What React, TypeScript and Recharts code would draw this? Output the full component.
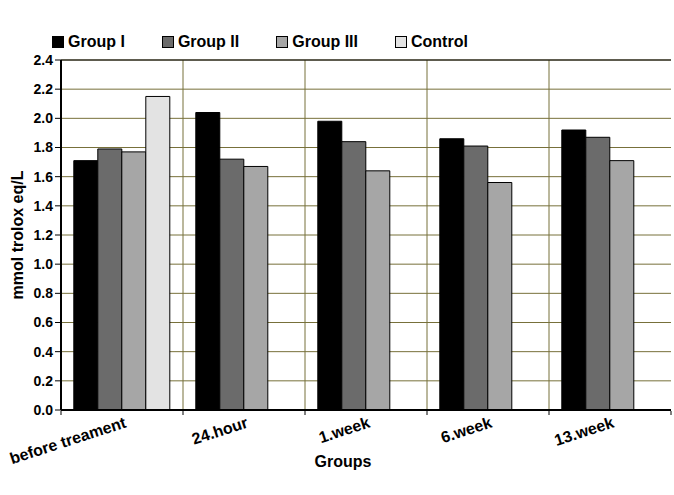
import React from 'react';
import { BarChart, Bar, XAxis, YAxis, CartesianGrid, ReferenceLine, Label } from 'recharts';

const categories = ['before treament', '24.hour', '1.week', '6.week', '13.week'];
const groupI = [1.71, 2.04, 1.98, 1.86, 1.92];
const groupII = [1.79, 1.72, 1.84, 1.81, 1.87];
const groupIII = [1.77, 1.67, 1.64, 1.56, 1.71];
const control = [2.15, null, null, null, null];
const yTicks = [0, 0.2, 0.4, 0.6, 0.8, 1.0, 1.2, 1.4, 1.6, 1.8, 2.0, 2.2, 2.4];

const seriesNames = ['Group I', 'Group II', 'Group III', 'Control'];
const seriesColors = ['#000000', '#6b6b6b', '#a6a6a6', '#e3e3e3'];

const data = categories.map((name, i) => ({
  name,
  g1: groupI[i],
  g2: groupII[i],
  g3: groupIII[i],
  ctrl: control[i],
}));
const keys = ['g1', 'g2', 'g3', 'ctrl'];

const FONT = '"Liberation Sans", Arial, sans-serif';
const GRID = '#77703a';

const XTick = (props: any) => {
  const { x, y, payload, index, visibleTicksCount } = props;
  const half = payload.offset ?? 61;
  const tx = x + 5;
  const ty = y + 17;
  return (
    <g>
      <line x1={x - half} x2={x - half} y1={y + 1} y2={y + 5} stroke="#000" />
      {index === visibleTicksCount - 1 && (
        <line x1={x + half} x2={x + half} y1={y + 1} y2={y + 5} stroke="#000" />
      )}
      <text
        x={tx}
        y={ty}
        textAnchor="end"
        transform={`rotate(-18, ${tx}, ${ty})`}
        fontFamily={FONT}
        fontWeight="bold"
        fontSize={16}
        fill="#000"
      >
        {payload.value}
      </text>
    </g>
  );
};

const App: React.FC = () => {
  return (
    <div style={{ position: 'absolute', left: 0, top: 0, width: 674, height: 495, background: '#fff', fontFamily: FONT }}>
      {/* legend */}
      <div style={{ position: 'absolute', left: 52, top: 33, display: 'flex', alignItems: 'center' }}>
        {seriesNames.map((n, i) => (
          <div key={n} style={{ display: 'flex', alignItems: 'center', marginRight: 37 }}>
            <div style={{ width: 10, height: 10, background: seriesColors[i], border: '1px solid #000', marginRight: 4 }} />
            <span style={{ fontWeight: 'bold', fontSize: 16, color: '#000' }}>{n}</span>
          </div>
        ))}
      </div>
      <BarChart
        width={674}
        height={495}
        data={data}
        margin={{ top: 60, right: 3, bottom: 0, left: 0 }}
        barCategoryGap="10.5%"
        barGap={0}
      >
        <CartesianGrid
          stroke={GRID}
          strokeWidth={1}
          verticalCoordinatesGenerator={({ offset }: any) =>
            categories.slice(1).map((_, i) => offset.left + ((i + 1) * offset.width) / categories.length)
          }
        />
        <XAxis
          dataKey="name"
          height={85}
          tickSize={0}
          tickMargin={0}
          tickLine={false}
          axisLine={{ stroke: '#000', strokeWidth: 2 }}
          tick={<XTick />}
          interval={0}
        >
          <Label value="Groups" position="center" dx={-23} dy={9} fontFamily={FONT} fontWeight="bold" fontSize={16} fill="#000" />
        </XAxis>
        <YAxis
          width={61}
          domain={[0, 2.4]}
          ticks={yTicks}
          tickFormatter={(v: number) => v.toFixed(1)}
          tickSize={6}
          tickMargin={2}
          axisLine={{ stroke: '#000', strokeWidth: 2 }}
          tickLine={{ stroke: '#000' }}
          tick={{ fontFamily: FONT, fontWeight: 'bold', fontSize: 14, fill: '#000' }}
          interval={0}
        >
          <Label value="mmol trolox eq/L" angle={-90} position="center" dx={-13} fontFamily={FONT} fontWeight="bold" fontSize={16} fill="#000" />
        </YAxis>
        <YAxis
          yAxisId="right"
          orientation="right"
          width={0}
          domain={[0, 2.4]}
          tick={false}
          tickLine={false}
          axisLine={{ stroke: '#000', strokeWidth: 1 }}
        />
        <ReferenceLine y={2.4} stroke="#000" strokeWidth={1} />
        {keys.map((k, i) => (
          <Bar
            key={k}
            dataKey={k}
            name={seriesNames[i]}
            fill={seriesColors[i]}
            stroke="#000"
            strokeWidth={1}
            isAnimationActive={false}
          />
        ))}
      </BarChart>
    </div>
  );
};

export default App;
